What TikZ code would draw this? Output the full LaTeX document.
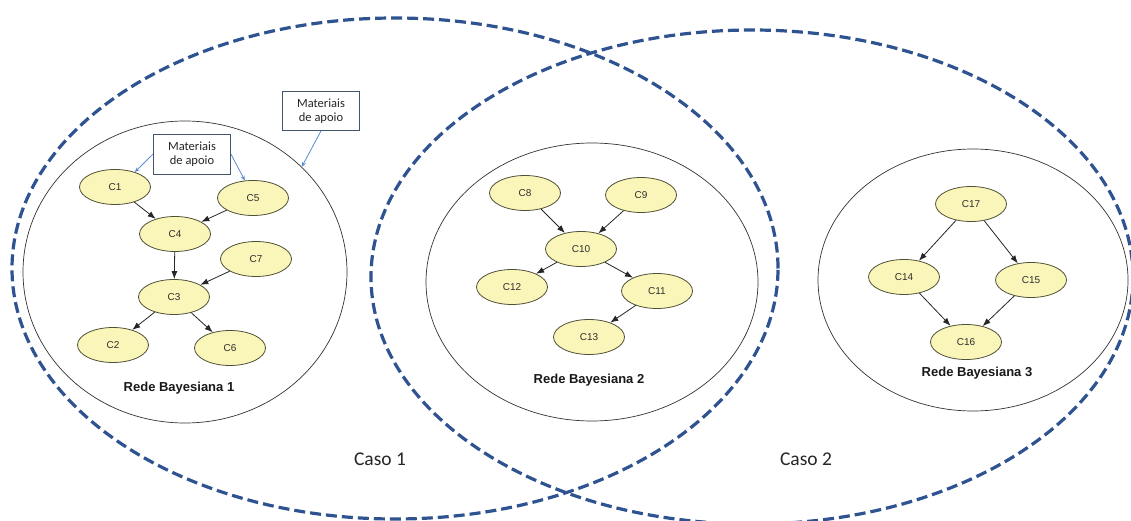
\documentclass[tikz,border=0pt]{standalone}
\usepackage{fontspec}
\setmainfont{Liberation Sans}
\newfontfamily\calibfont{Carlito}
\usetikzlibrary{shapes.geometric,arrows.meta}

\definecolor{casoblue}{RGB}{47,83,145}
\definecolor{noteblue}{RGB}{91,139,208}
\definecolor{boxedge}{RGB}{68,84,106}
\definecolor{cfill}{RGB}{250,246,186}
\definecolor{cedge}{RGB}{80,80,55}
\definecolor{ctext}{RGB}{45,45,45}

\begin{document}
\begin{tikzpicture}[x=1pt,y=-1pt,
  caso/.style={ellipse, draw=casoblue, line width=3.2pt,
    dash pattern=on 11pt off 5pt, inner sep=0pt},
  bnet/.style={ellipse, draw=black!80, line width=0.7pt, inner sep=0pt},
  cnode/.style={ellipse, draw=cedge, fill=cfill, line width=0.8pt,
    minimum width=71pt, minimum height=35pt, inner sep=0pt,
    text=ctext, font=\fontsize{10}{12}\selectfont},
  arr/.style={draw=black!85, line width=0.8pt, -{Latex[length=8pt,width=6pt]}},
  blarr/.style={draw=noteblue, line width=0.8pt, -{Stealth[length=5pt,width=4pt]}},
  notebox/.style={draw=boxedge, line width=0.8pt, fill=white,
    minimum width=77pt, minimum height=40pt, inner sep=0pt, align=center,
    font=\calibfont\fontsize{12.5}{14.5}\selectfont, text=black!85},
  nettitle/.style={font=\bfseries\fontsize{13}{15}\selectfont, text=black!90},
  casolabel/.style={font=\calibfont\fontsize{19.5}{23}\selectfont, text=black!85}]

\useasboundingbox (0,0) rectangle (1131,521);
\clip (0,0) rectangle (1131,521);
\fill[white] (0,0) rectangle (1131,521);

% the two overlapping cases
\node[caso, minimum width=766pt, minimum height=501pt] (caso1) at (395,268.5) {};
\node[caso, minimum width=762pt, minimum height=494pt] (caso2) at (752,277) {};
\node[casolabel] (lbl1) at (380,459) {Caso 1};
\node[casolabel] (lbl2) at (806,459) {Caso 2};

% the three Bayesian networks
\node[bnet, minimum width=324pt, minimum height=302pt] (rb1) at (185,272) {};
\node[bnet, minimum width=332pt, minimum height=278pt] (rb2) at (592,282) {};
\node[bnet, minimum width=310pt, minimum height=262pt] (rb3) at (973,280) {};
\node[nettitle] (t1) at (179,388) {Rede Bayesiana 1};
\node[nettitle] (t2) at (589,380) {Rede Bayesiana 2};
\node[nettitle] (t3) at (977,373) {Rede Bayesiana 3};

% network 1
\node[cnode] (c1) at (115,187) {C1};
\node[cnode] (c5) at (253,198) {C5};
\node[cnode] (c4) at (175,234) {C4};
\node[cnode] (c7) at (256,259) {C7};
\node[cnode] (c3) at (174,297) {C3};
\node[cnode] (c2) at (113,345) {C2};
\node[cnode] (c6) at (230,348) {C6};
\draw[arr] (c1) -- (c4);
\draw[arr] (c5) -- (c4);
\draw[arr] (c4) -- (c3);
\draw[arr] (c7) -- (c3);
\draw[arr] (c3) -- (c2);
\draw[arr] (c3) -- (c6);

% network 2
\node[cnode] (c8) at (525,193) {C8};
\node[cnode] (c9) at (641,195) {C9};
\node[cnode] (c10) at (581,249) {C10};
\node[cnode] (c12) at (512,287) {C12};
\node[cnode] (c11) at (657,291) {C11};
\node[cnode] (c13) at (589,337) {C13};
\draw[arr] (c8) -- (c10);
\draw[arr] (c9) -- (c10);
\draw[arr] (c10) -- (c12);
\draw[arr] (c10) -- (c11);
\draw[arr] (c11) -- (c13);

% network 3
\node[cnode] (c17) at (971,204) {C17};
\node[cnode] (c14) at (904,277) {C14};
\node[cnode] (c15) at (1031,280) {C15};
\node[cnode] (c16) at (966,342) {C16};
\draw[arr] (c17) -- (c14);
\draw[arr] (c17) -- (c15);
\draw[arr] (c14) -- (c16);
\draw[arr] (c15) -- (c16);

% support material notes
\node[notebox] (box1) at (192,154) {Materiais\\de apoio};
\node[notebox, minimum height=39pt] (box2) at (321,111) {Materiais\\de apoio};
\draw[blarr] (box1.west) -- (c1.37);
\draw[blarr] (box1.east) -- (c5.115);
\draw[blarr] (box2.south) -- (rb1.42);
\end{tikzpicture}
\end{document}
